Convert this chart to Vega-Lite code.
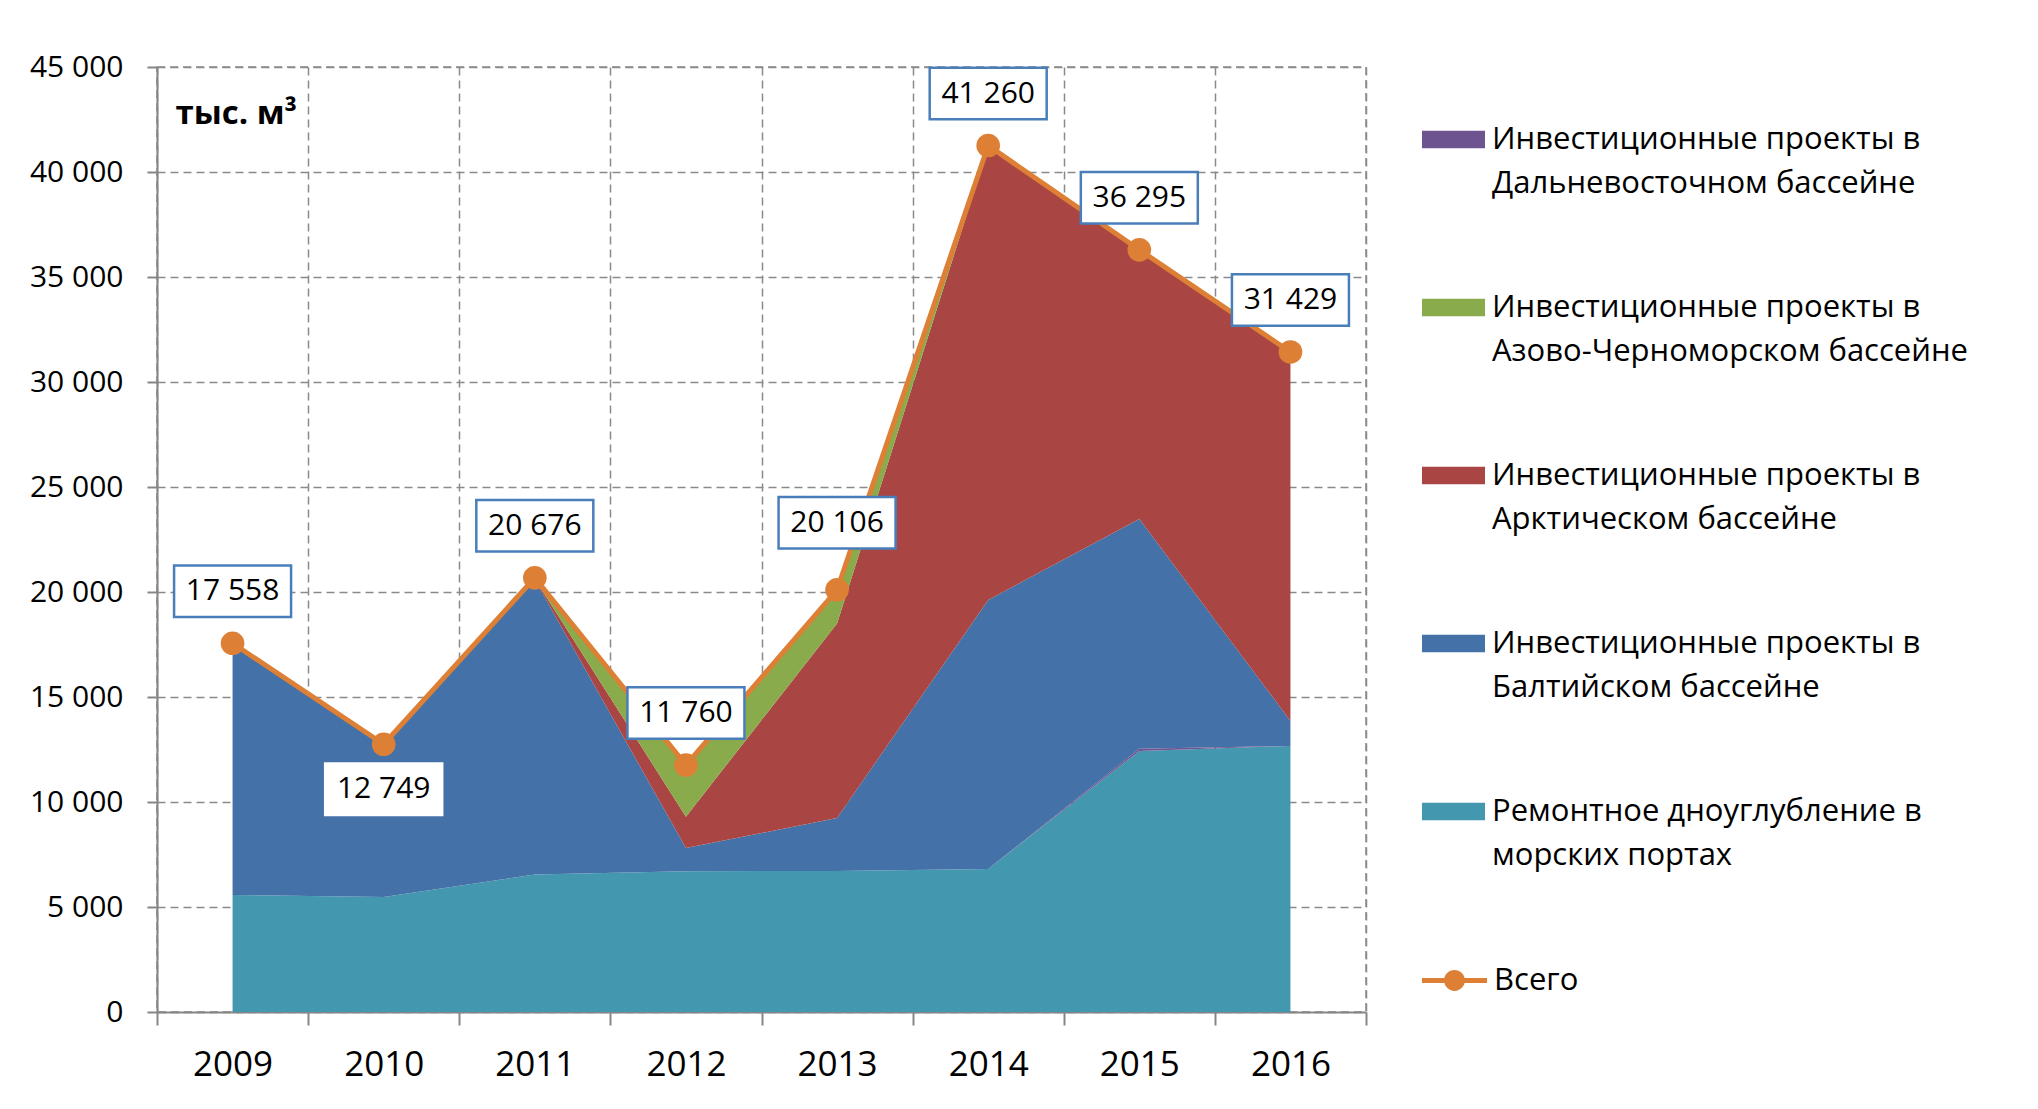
{
  "$schema": "https://vega.github.io/schema/vega-lite/v6.json",
  "width": 1209,
  "height": 945,
  "autosize": {"type": "none"},
  "padding": {"left": 157, "top": 67, "right": 672, "bottom": 97},
  "background": "white",
  "config": {
    "font": "Open Sans",
    "locale": {"number": {"decimal": ",", "thousands": " ", "grouping": [3], "currency": ["", ""]}},
    "view": {"stroke": "#8a8a8a", "strokeWidth": 1.5, "strokeDash": [8, 5]},
    "style": {"guide-label": {"lineHeight": 44}}
  },
  "datasets": {
    "areas": [
      {"year": "2009", "series": "Ремонтное дноуглубление в морских портах", "value": 5571},
      {"year": "2009", "series": "Инвестиционные проекты в Балтийском бассейне", "value": 11987},
      {"year": "2009", "series": "Инвестиционные проекты в Арктическом бассейне", "value": 0},
      {"year": "2009", "series": "Инвестиционные проекты в Азово-Черноморском бассейне", "value": 0},
      {"year": "2009", "series": "Инвестиционные проекты в Дальневосточном бассейне", "value": 0},
      {"year": "2010", "series": "Ремонтное дноуглубление в морских портах", "value": 5476},
      {"year": "2010", "series": "Инвестиционные проекты в Балтийском бассейне", "value": 7273},
      {"year": "2010", "series": "Инвестиционные проекты в Арктическом бассейне", "value": 0},
      {"year": "2010", "series": "Инвестиционные проекты в Азово-Черноморском бассейне", "value": 0},
      {"year": "2010", "series": "Инвестиционные проекты в Дальневосточном бассейне", "value": 0},
      {"year": "2011", "series": "Ремонтное дноуглубление в морских портах", "value": 6550},
      {"year": "2011", "series": "Инвестиционные проекты в Балтийском бассейне", "value": 14036},
      {"year": "2011", "series": "Инвестиционные проекты в Арктическом бассейне", "value": 30},
      {"year": "2011", "series": "Инвестиционные проекты в Азово-Черноморском бассейне", "value": 60},
      {"year": "2011", "series": "Инвестиционные проекты в Дальневосточном бассейне", "value": 0},
      {"year": "2012", "series": "Ремонтное дноуглубление в морских портах", "value": 6700},
      {"year": "2012", "series": "Инвестиционные проекты в Балтийском бассейне", "value": 1110},
      {"year": "2012", "series": "Инвестиционные проекты в Арктическом бассейне", "value": 1490},
      {"year": "2012", "series": "Инвестиционные проекты в Азово-Черноморском бассейне", "value": 2460},
      {"year": "2012", "series": "Инвестиционные проекты в Дальневосточном бассейне", "value": 0},
      {"year": "2013", "series": "Ремонтное дноуглубление в морских портах", "value": 6720},
      {"year": "2013", "series": "Инвестиционные проекты в Балтийском бассейне", "value": 2520},
      {"year": "2013", "series": "Инвестиционные проекты в Арктическом бассейне", "value": 9260},
      {"year": "2013", "series": "Инвестиционные проекты в Азово-Черноморском бассейне", "value": 1606},
      {"year": "2013", "series": "Инвестиционные проекты в Дальневосточном бассейне", "value": 0},
      {"year": "2014", "series": "Ремонтное дноуглубление в морских портах", "value": 6810},
      {"year": "2014", "series": "Инвестиционные проекты в Балтийском бассейне", "value": 12810},
      {"year": "2014", "series": "Инвестиционные проекты в Арктическом бассейне", "value": 21560},
      {"year": "2014", "series": "Инвестиционные проекты в Азово-Черноморском бассейне", "value": 80},
      {"year": "2014", "series": "Инвестиционные проекты в Дальневосточном бассейне", "value": 0},
      {"year": "2015", "series": "Ремонтное дноуглубление в морских портах", "value": 12430},
      {"year": "2015", "series": "Инвестиционные проекты в Балтийском бассейне", "value": 10950},
      {"year": "2015", "series": "Инвестиционные проекты в Арктическом бассейне", "value": 12815},
      {"year": "2015", "series": "Инвестиционные проекты в Азово-Черноморском бассейне", "value": 0},
      {"year": "2015", "series": "Инвестиционные проекты в Дальневосточном бассейне", "value": 100},
      {"year": "2016", "series": "Ремонтное дноуглубление в морских портах", "value": 12670},
      {"year": "2016", "series": "Инвестиционные проекты в Балтийском бассейне", "value": 1190},
      {"year": "2016", "series": "Инвестиционные проекты в Арктическом бассейне", "value": 17569},
      {"year": "2016", "series": "Инвестиционные проекты в Азово-Черноморском бассейне", "value": 0},
      {"year": "2016", "series": "Инвестиционные проекты в Дальневосточном бассейне", "value": 0}
    ],
    "totals": [
      {"year": "2009", "value": 17558},
      {"year": "2010", "value": 12749},
      {"year": "2011", "value": 20676},
      {"year": "2012", "value": 11760},
      {"year": "2013", "value": 20106},
      {"year": "2014", "value": 41260},
      {"year": "2015", "value": 36295},
      {"year": "2016", "value": 31429}
    ]
  },
  "layer": [
    {
      "data": {"name": "areas"},
      "mark": {"type": "area", "opacity": 1},
      "encoding": {
        "x": {
          "field": "year", "type": "ordinal", "bandPosition": 0.5,
          "scale": {"type": "band", "paddingInner": 0, "paddingOuter": 0},
          "axis": {
            "title": null, "labelAngle": 0, "tickBand": "extent",
            "labelFontSize": 35, "labelColor": "#000000", "labelPadding": 22,
            "tickSize": 13, "tickWidth": 2, "tickColor": "#868686",
            "domainColor": "#868686", "domainWidth": 2,
            "grid": true, "gridColor": "#8a8a8a", "gridDash": [8, 5], "gridWidth": 1.5
          }
        },
        "y": {
          "field": "value", "type": "quantitative", "stack": "zero",
          "scale": {"domain": [0, 45000], "nice": false},
          "axis": {
            "values": [0, 5000, 10000, 15000, 20000, 25000, 30000, 35000, 40000, 45000],
            "labelExpr": "format(datum.value, ',')",
            "labelFontSize": 30, "labelColor": "#000000", "labelPadding": 24,
            "tickSize": 10, "tickWidth": 2, "tickColor": "#868686",
            "domainColor": "#868686", "domainWidth": 2,
            "grid": true, "gridColor": "#8a8a8a", "gridDash": [8, 5], "gridWidth": 1.5,
            "title": "тыс. м³", "titleAngle": 0, "titleX": 18, "titleY": 56,
            "titleAlign": "left", "titleBaseline": "alphabetic",
            "titleFontSize": 33, "titleFontWeight": "bold", "titleColor": "#000000"
          }
        },
        "color": {
          "field": "series", "type": "nominal",
          "sort": [
            "Ремонтное дноуглубление в морских портах",
            "Инвестиционные проекты в Балтийском бассейне",
            "Инвестиционные проекты в Арктическом бассейне",
            "Инвестиционные проекты в Азово-Черноморском бассейне",
            "Инвестиционные проекты в Дальневосточном бассейне"
          ],
          "scale": {
            "domain": [
              "Ремонтное дноуглубление в морских портах",
              "Инвестиционные проекты в Балтийском бассейне",
              "Инвестиционные проекты в Арктическом бассейне",
              "Инвестиционные проекты в Азово-Черноморском бассейне",
              "Инвестиционные проекты в Дальневосточном бассейне"
            ],
            "range": ["#4398b0", "#4472a8", "#a94543", "#8aab4b", "#6e5391"]
          },
          "legend": {
            "orient": "none", "legendX": 1265, "legendY": 41, "title": null, "padding": 0,
            "values": [
              "Инвестиционные проекты в Дальневосточном бассейне",
              "Инвестиционные проекты в Азово-Черноморском бассейне",
              "Инвестиционные проекты в Арктическом бассейне",
              "Инвестиционные проекты в Балтийском бассейне",
              "Ремонтное дноуглубление в морских портах"
            ],
            "symbolType": "M-1,-0.28 H1 V0.28 H-1 Z", "symbolSize": 3969, "symbolStrokeWidth": 0,
            "labelExpr": "split(replace(datum.label, ' в ', ' в|'), '|')",
            "labelFontSize": 31, "labelColor": "#000000", "labelLimit": 700, "labelOffset": 7,
            "labelBaseline": "middle", "rowPadding": 77
          }
        }
      }
    },
    {
      "data": {"name": "totals"},
      "mark": {"type": "line", "color": "#dd8035", "strokeWidth": 5},
      "encoding": {
        "x": {"field": "year", "type": "ordinal", "bandPosition": 0.5, "scale": {"type": "band", "paddingInner": 0, "paddingOuter": 0}},
        "y": {"field": "value", "type": "quantitative"}
      }
    },
    {
      "data": {"name": "totals"},
      "mark": {"type": "point", "filled": true, "size": 560, "opacity": 1, "strokeWidth": 0},
      "encoding": {
        "x": {"field": "year", "type": "ordinal", "bandPosition": 0.5, "scale": {"type": "band", "paddingInner": 0, "paddingOuter": 0}},
        "y": {"field": "value", "type": "quantitative"},
        "fill": {
          "datum": "Всего", "type": "nominal",
          "scale": {"domain": ["Всего"], "range": ["#dd8035"]},
          "legend": {
            "orient": "none", "legendX": 1265, "legendY": 881, "title": null, "padding": 0,
            "symbolType": "M-1,-0.08 H1 V0.08 H-1 Z M0.32,0 A0.32,0.32 0 1,1 -0.32,0 A0.32,0.32 0 1,1 0.32,0 Z",
            "symbolSize": 4225, "symbolStrokeWidth": 0,
            "labelFontSize": 31, "labelColor": "#000000", "labelOffset": 7, "labelBaseline": "middle"
          }
        }
      }
    },
    {
      "data": {"name": "totals"},
      "transform": [{"filter": "datum.year != '2010' && datum.year != '2013'"}],
      "encoding": {
        "x": {"field": "year", "type": "ordinal", "bandPosition": 0.5, "scale": {"type": "band", "paddingInner": 0, "paddingOuter": 0}},
        "y": {"field": "value", "type": "quantitative"}
      },
      "layer": [
        {"mark": {"type": "point", "shape": "M-1,-0.44 H1 V0.44 H-1 Z", "size": 13689, "filled": true, "fill": "white", "stroke": "#4a7ebb", "strokeWidth": 2.5, "opacity": 1, "yOffset": -52}},
        {"mark": {"type": "text", "fontSize": 30, "color": "#000000", "baseline": "middle", "align": "center", "yOffset": -52},
         "encoding": {"text": {"field": "value", "type": "quantitative", "format": ","}}}
      ]
    },
    {
      "data": {"name": "totals"},
      "transform": [{"filter": "datum.year == '2010'"}],
      "encoding": {
        "x": {"field": "year", "type": "ordinal", "bandPosition": 0.5, "scale": {"type": "band", "paddingInner": 0, "paddingOuter": 0}},
        "y": {"field": "value", "type": "quantitative"}
      },
      "layer": [
        {"mark": {"type": "point", "shape": "M-1,-0.44 H1 V0.44 H-1 Z", "size": 13689, "filled": true, "fill": "white", "stroke": "white", "strokeWidth": 2.5, "opacity": 1, "yOffset": 45}},
        {"mark": {"type": "text", "fontSize": 30, "color": "#000000", "baseline": "middle", "align": "center", "yOffset": 45},
         "encoding": {"text": {"field": "value", "type": "quantitative", "format": ","}}}
      ]
    },
    {
      "data": {"name": "totals"},
      "transform": [{"filter": "datum.year == '2013'"}],
      "encoding": {
        "x": {"field": "year", "type": "ordinal", "bandPosition": 0.5, "scale": {"type": "band", "paddingInner": 0, "paddingOuter": 0}},
        "y": {"field": "value", "type": "quantitative"}
      },
      "layer": [
        {"mark": {"type": "point", "shape": "M-1,-0.44 H1 V0.44 H-1 Z", "size": 13689, "filled": true, "fill": "white", "stroke": "#4a7ebb", "strokeWidth": 2.5, "opacity": 1, "yOffset": -67}},
        {"mark": {"type": "text", "fontSize": 30, "color": "#000000", "baseline": "middle", "align": "center", "yOffset": -67},
         "encoding": {"text": {"field": "value", "type": "quantitative", "format": ","}}}
      ]
    }
  ]
}
